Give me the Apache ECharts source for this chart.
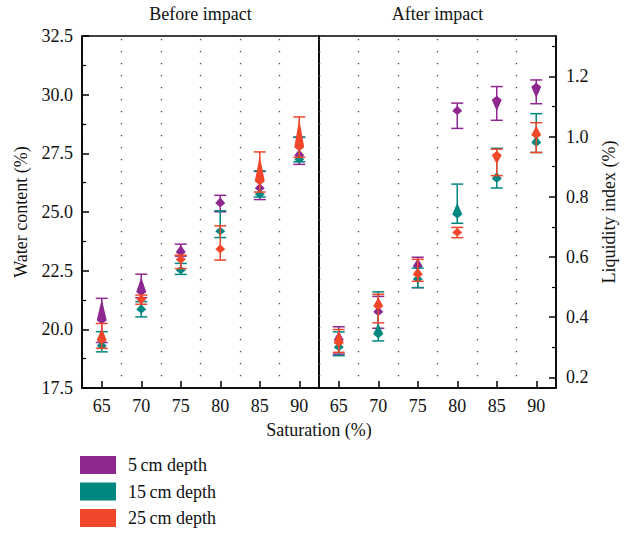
<!DOCTYPE html>
<html>
<head>
<meta charset="utf-8">
<script src="https://cdn.jsdelivr.net/npm/echarts@6/dist/echarts.min.js"></script>
<style>html,body{margin:0;padding:0;background:#fff;}#c{width:629px;height:533px;}</style>
</head>
<body>
<div id="c"></div>
<script>
// ---- data ----
const categories = ['65', '70', '75', '80', '85', '90'];
const seriesNames = ['5\u2009cm depth', '15\u2009cm depth', '25\u2009cm depth'];
const leftTicks = [17.5, 20.0, 22.5, 25.0, 27.5, 30.0, 32.5];
const rightTicks = [0.2, 0.4, 0.6, 0.8, 1.0, 1.2];
const rightMinorTicks = [0.3, 0.5, 0.7, 0.9, 1.1, 1.3];

// Before impact: water content (%)
const before5Mean = [20.39, 21.59, 23.29, 25.37, 26.01, 27.41];
const before5Low  = [19.44, 21.35, 23.12, 25.01, 25.53, 27.03];
const before5High = [21.32, 22.35, 23.63, 25.71, 26.73, 28.18];
const before5Tip  = [21.29, 22.22, 23.59, 25.63, 26.22, 27.67];

const before15Mean = [19.29, 20.85, 22.52, 24.18, 25.76, 27.24];
const before15Low  = [19.04, 20.53, 22.34, 23.91, 25.64, 27.14];
const before15High = [19.90, 21.18, 22.81, 25.05, 26.75, 28.19];
const before15Tip  = [19.54, 21.07, 22.69, 24.31, 25.93, 27.37];

const before25Mean = [19.54, 21.29, 22.99, 23.41, 26.31, 27.76];
const before25Low  = [19.19, 21.07, 22.59, 22.95, 25.85, 27.33];
const before25High = [20.25, 21.46, 23.16, 24.41, 27.56, 29.05];
const before25Tip  = [20.05, 21.07, 22.78, 23.63, 27.41, 28.95];

// After impact: liquidity index
const after5Mean = [0.324, 0.417, 0.569, 1.085, 1.122, 1.165];
const after5Low  = [0.277, 0.363, 0.498, 1.027, 1.054, 1.109];
const after5High = [0.368, 0.469, 0.599, 1.111, 1.166, 1.188];
const after5Tip  = [0.353, 0.436, 0.595, 1.102, 1.085, 1.128];

const after15Mean = [0.300, 0.343, 0.526, 0.741, 0.860, 0.979];
const after15Low  = [0.272, 0.321, 0.498, 0.712, 0.829, 0.947];
const after15High = [0.351, 0.484, 0.563, 0.842, 0.961, 1.076];
const after15Tip  = [0.317, 0.380, 0.542, 0.780, 0.883, 1.002];

const after25Mean = [0.314, 0.436, 0.542, 0.681, 0.939, 1.005];
const after25Low  = [0.283, 0.381, 0.519, 0.664, 0.870, 0.947];
const after25High = [0.359, 0.476, 0.592, 0.698, 0.958, 1.046];
const after25Tip  = [0.353, 0.466, 0.565, 0.694, 0.909, 1.035];

// ---- styles ----
const COLORS = ['#8E278F', '#00877F', '#F0462A'];
const FONT = '"Liberation Serif", "DejaVu Serif", serif';
const TICK_FS = 18;
const NAME_FS = 18;

function rows(mean, low, high, tip) {
  return mean.map((m, i) => [i, m, low[i], high[i], tip[i]]);
}

function renderItem(params, api) {
  const i = api.value(0);
  const pm = api.coord([i, api.value(1)]);
  const pl = api.coord([i, api.value(2)]);
  const ph = api.coord([i, api.value(3)]);
  const pt = api.coord([i, api.value(4)]);
  const color = api.visual('color');
  const cx = pm[0];
  const capW = 6;
  const hw = 5;
  let tipY = pt[1];
  const my = pm[1];
  let dir = tipY - my;
  if (Math.abs(dir) < 4) { tipY = my - 4.5; dir = -4.5; }
  const back = dir < 0 ? 4 : -4;
  const lineStyle = { stroke: color, lineWidth: 1.5 };
  return {
    type: 'group',
    children: [
      { type: 'line', shape: { x1: cx, y1: ph[1], x2: cx, y2: pl[1] }, style: lineStyle },
      { type: 'line', shape: { x1: cx - capW, y1: ph[1], x2: cx + capW, y2: ph[1] }, style: lineStyle },
      { type: 'line', shape: { x1: cx - capW, y1: pl[1], x2: cx + capW, y2: pl[1] }, style: lineStyle },
      { type: 'polygon', shape: { points: [[cx, tipY], [cx - hw, my], [cx, my + back], [cx + hw, my]] }, style: { fill: color } }
    ]
  };
}

function mkSeries(name, color, xi, yi, data) {
  return {
    type: 'custom', name: name, xAxisIndex: xi, yAxisIndex: yi,
    itemStyle: { color: color }, renderItem: renderItem, clip: false,
    encode: { x: 0, y: [1, 2, 3, 4] }, data: data
  };
}

const axisLineStyle = { color: '#000', width: 1.5 };
function xAxisCfg(gi) {
  return {
    type: 'category', gridIndex: gi, data: categories, boundaryGap: true,
    axisLine: { show: true, lineStyle: axisLineStyle },
    axisTick: { show: true, inside: true, alignWithLabel: true, length: 7, lineStyle: { color: '#000', width: 1.5 } },
    axisLabel: { fontFamily: FONT, fontSize: TICK_FS, color: '#111', margin: 9 },
    splitLine: { show: true, lineStyle: { color: '#444', width: 1.3, type: [1.3, 10.7], dashOffset: -3 } }
  };
}

const chart = echarts.init(document.getElementById('c'), null, { renderer: 'svg' });
chart.setOption({
  backgroundColor: '#fff',
  animation: false,
  grid: [
    { left: 82, top: 36, width: 237, height: 352, show: true, borderColor: '#000', borderWidth: 1.5, containLabel: false },
    { left: 319, top: 36, width: 237, height: 352, show: true, borderColor: '#000', borderWidth: 1.5, containLabel: false }
  ],
  xAxis: [xAxisCfg(0), xAxisCfg(1)],
  yAxis: [
    {
      type: 'value', gridIndex: 0, min: 17.5, max: 32.5, interval: 2.5, position: 'left',
      name: 'Water content (%)', nameLocation: 'middle', nameGap: 52, nameRotate: 90,
      nameTextStyle: { fontFamily: FONT, fontSize: NAME_FS, color: '#111' },
      axisLine: { show: true, lineStyle: axisLineStyle },
      axisTick: { show: true, inside: true, length: 7, lineStyle: { color: '#000', width: 1.5 } },
      minorTick: { show: true, splitNumber: 2, length: 4, lineStyle: { color: '#000', width: 1.2 } },
      axisLabel: { fontFamily: FONT, fontSize: TICK_FS, color: '#111', margin: 9, formatter: v => v.toFixed(1) },
      splitLine: { show: false }
    },
    {
      type: 'value', gridIndex: 1, min: 0.1646, max: 1.334, position: 'right',
      name: 'Liquidity index (%)', nameLocation: 'middle', nameGap: 44, nameRotate: 90,
      nameTextStyle: { fontFamily: FONT, fontSize: NAME_FS, color: '#111' },
      axisLine: { show: true, lineStyle: axisLineStyle },
      axisTick: { show: true, inside: true, length: 7, customValues: rightTicks, lineStyle: { color: '#000', width: 1.5 } },
      axisLabel: { fontFamily: FONT, fontSize: TICK_FS, color: '#111', margin: 10, customValues: rightTicks, formatter: v => v.toFixed(1) },
      splitLine: { show: false }
    },
    {
      type: 'value', gridIndex: 1, min: 0.1646, max: 1.334, position: 'right',
      axisLine: { show: false },
      axisTick: { show: true, inside: true, length: 4, customValues: rightMinorTicks, lineStyle: { color: '#000', width: 1.2 } },
      axisLabel: { show: false },
      splitLine: { show: false }
    }
  ],
  legend: {
    orient: 'vertical', left: 80, top: 456, padding: 0, itemWidth: 36, itemHeight: 18, itemGap: 8.5, icon: 'rect',
    textStyle: { fontFamily: FONT, fontSize: TICK_FS, color: '#111', padding: [0, 0, 0, 7] },
    data: seriesNames.map((n, k) => ({ name: n, itemStyle: { color: COLORS[k] } }))
  },
  graphic: [
    { type: 'text', x: 200.5, y: 14, style: { text: 'Before impact', font: '18px ' + FONT, fill: '#111', textAlign: 'center', textVerticalAlign: 'middle' } },
    { type: 'text', x: 437.5, y: 14, style: { text: 'After impact', font: '18px ' + FONT, fill: '#111', textAlign: 'center', textVerticalAlign: 'middle' } },
    { type: 'text', x: 319, y: 430, style: { text: 'Saturation (%)', font: NAME_FS + 'px ' + FONT, fill: '#111', textAlign: 'center', textVerticalAlign: 'middle' } }
  ],
  series: [
    mkSeries(seriesNames[0], COLORS[0], 0, 0, rows(before5Mean, before5Low, before5High, before5Tip)),
    mkSeries(seriesNames[1], COLORS[1], 0, 0, rows(before15Mean, before15Low, before15High, before15Tip)),
    mkSeries(seriesNames[2], COLORS[2], 0, 0, rows(before25Mean, before25Low, before25High, before25Tip)),
    mkSeries(seriesNames[0], COLORS[0], 1, 1, rows(after5Mean, after5Low, after5High, after5Tip)),
    mkSeries(seriesNames[1], COLORS[1], 1, 1, rows(after15Mean, after15Low, after15High, after15Tip)),
    mkSeries(seriesNames[2], COLORS[2], 1, 1, rows(after25Mean, after25Low, after25High, after25Tip))
  ]
});
</script>
</body>
</html>
